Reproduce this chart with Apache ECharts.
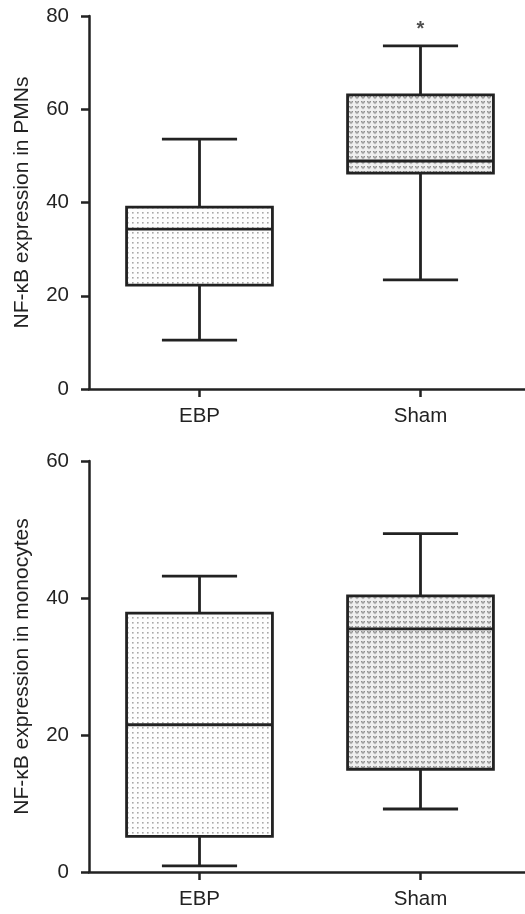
<!DOCTYPE html>
<html>
<head>
<meta charset="utf-8">
<script src="https://cdn.jsdelivr.net/npm/echarts@6/dist/echarts.min.js"></script>
<style>
html,body{margin:0;padding:0;background:#fff;}
#chart{width:525px;height:914px;}
</style>
</head>
<body>
<div id="chart"></div>
<script>
// ---- data ----
const categories = ['EBP', 'Sham'];
// [min, Q1, median, Q3, max]
const pmnsEBP = [10.5, 22.3, 34.3, 39.0, 53.6];
const pmnsSham = [23.4, 46.3, 48.9, 63.1, 73.6];
const monoEBP = [0.9, 5.2, 21.5, 37.8, 43.2];
const monoSham = [9.2, 15.0, 35.5, 40.3, 49.4];
const pmnsTicks = [0, 20, 40, 60, 80];
const monoTicks = [0, 20, 40, 60];
const sigMarks = [['Sham', 77.2, '*']];
const pmnsTitle = 'NF-\u03baB expression in PMNs';
const monoTitle = 'NF-\u03baB expression in monocytes';

// ---- patterns ----
function dotPattern() {
  const c = document.createElement('canvas');
  c.width = 5; c.height = 5;
  const g = c.getContext('2d');
  g.fillStyle = '#fdfdfd'; g.fillRect(0, 0, 5, 5);
  g.fillStyle = '#a8a8a8'; g.fillRect(2, 2, 1.6, 1.6);
  return c;
}
function heartPattern() {
  const c = document.createElement('canvas');
  c.width = 6; c.height = 5;
  const g = c.getContext('2d');
  g.fillStyle = '#efefef'; g.fillRect(0, 0, 6, 5);
  g.fillStyle = '#8e8e8e';
  g.fillRect(1, 1, 1.5, 1.2);
  g.fillRect(3.5, 1, 1.5, 1.2);
  g.fillRect(1.5, 2.2, 3, 1);
  g.fillRect(2.5, 3.2, 1, 0.9);
  return c;
}
const patterns = [
  { image: dotPattern(), repeat: 'repeat' },
  { image: heartPattern(), repeat: 'repeat' }
];

const FONT = 'Liberation Sans, Arial, sans-serif';
const INK = '#222';
const BOX_RATIO = 0.66;
const CAP_RATIO = 0.34;

function yAxisCfg(idx, ticks, name) {
  return {
    type: 'value', gridIndex: idx,
    min: ticks[0], max: ticks[ticks.length - 1], interval: ticks[1] - ticks[0],
    name: name, nameLocation: 'middle', nameRotate: 90, nameGap: 56,
    nameTextStyle: { fontFamily: FONT, fontSize: 21, color: INK },
    axisLine: { show: true, lineStyle: { color: INK, width: 2.5 } },
    axisTick: { show: true, length: 8, lineStyle: { color: INK, width: 2.5 } },
    axisLabel: { fontFamily: FONT, fontSize: 20.5, color: INK, margin: 20 },
    splitLine: { show: false }
  };
}
function xAxisCfg(idx) {
  return {
    type: 'category', gridIndex: idx, data: categories, boundaryGap: true,
    axisLine: { show: true, onZero: false, lineStyle: { color: INK, width: 2.5 } },
    axisTick: { show: true, alignWithLabel: true, length: 8, lineStyle: { color: INK, width: 2.5 } },
    axisLabel: { fontFamily: FONT, fontSize: 20.5, color: INK, margin: 17 },
    splitLine: { show: false }
  };
}

function renderBox(params, api) {
  const ci = api.value(0);
  const band = api.size([1, 0])[0];
  const cx = api.coord([ci, 0])[0];
  const yMin = api.coord([ci, api.value(1)])[1];
  const yQ1 = api.coord([ci, api.value(2)])[1];
  const yMed = api.coord([ci, api.value(3)])[1];
  const yQ3 = api.coord([ci, api.value(4)])[1];
  const yMax = api.coord([ci, api.value(5)])[1];
  const hw = band * BOX_RATIO / 2;
  const cw = band * CAP_RATIO / 2;
  const ls = { stroke: INK, lineWidth: 2.8, fill: null };
  return {
    type: 'group',
    children: [
      { type: 'line', shape: { x1: cx, y1: yMax, x2: cx, y2: yQ3 }, style: ls },
      { type: 'line', shape: { x1: cx, y1: yQ1, x2: cx, y2: yMin }, style: ls },
      { type: 'line', shape: { x1: cx - cw, y1: yMax, x2: cx + cw, y2: yMax }, style: ls },
      { type: 'line', shape: { x1: cx - cw, y1: yMin, x2: cx + cw, y2: yMin }, style: ls },
      { type: 'rect', shape: { x: cx - hw, y: yQ3, width: hw * 2, height: yQ1 - yQ3 },
        style: { fill: patterns[ci], stroke: INK, lineWidth: 2.8 } },
      { type: 'line', shape: { x1: cx - hw, y1: yMed, x2: cx + hw, y2: yMed }, style: ls }
    ]
  };
}
function boxRows(a, b) {
  return [[0].concat(a), [1].concat(b)];
}

const chart = echarts.init(document.getElementById('chart'), null, { renderer: 'canvas' });
chart.setOption({
  animation: false,
  backgroundColor: '#fff',
  grid: [
    { left: 89, width: 442, top: 16, height: 373, outerBoundsMode: 'none', containLabel: false },
    { left: 89, width: 442, top: 461, height: 411, outerBoundsMode: 'none', containLabel: false }
  ],
  xAxis: [xAxisCfg(0), xAxisCfg(1)],
  yAxis: [yAxisCfg(0, pmnsTicks, pmnsTitle), yAxisCfg(1, monoTicks, monoTitle)],
  series: [
    {
      type: 'custom', xAxisIndex: 0, yAxisIndex: 0, renderItem: renderBox,
      encode: { x: 0, y: [1, 2, 3, 4, 5] },
      data: boxRows(pmnsEBP, pmnsSham)
    },
    {
      type: 'custom', xAxisIndex: 1, yAxisIndex: 1, renderItem: renderBox,
      encode: { x: 0, y: [1, 2, 3, 4, 5] },
      data: boxRows(monoEBP, monoSham)
    },
    {
      type: 'scatter', xAxisIndex: 0, yAxisIndex: 0,
      symbol: 'circle', symbolSize: 1, silent: true,
      itemStyle: { color: 'rgba(0,0,0,0)' },
      data: sigMarks.map(d => ({ value: [d[0], d[1]], label: { show: true, formatter: d[2] } })),
      label: { position: 'inside', fontFamily: FONT, fontSize: 20, fontWeight: 'bold', color: INK }
    }
  ]
});
</script>
</body>
</html>
